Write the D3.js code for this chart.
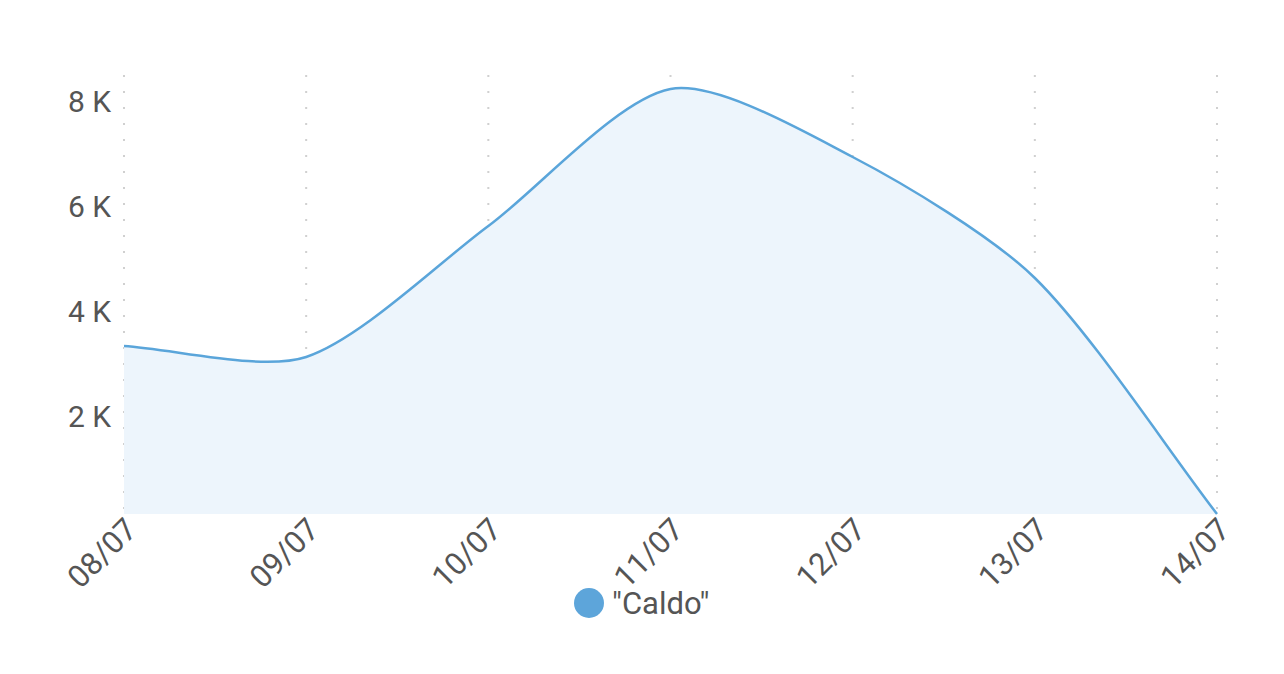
<!DOCTYPE html>
<html><head><meta charset="utf-8">
<script src="https://cdn.jsdelivr.net/npm/d3@7"></script>
<style>body{margin:0;background:#fff;} svg{display:block;font-family:Roboto, sans-serif;}</style>
</head><body>
<svg id="c" width="1284" height="674"></svg>
<script>
const categories = ["08/07","09/07","10/07","11/07","12/07","13/07","14/07"];
const values = [3352, 3143, 5638, 8247, 6952, 4647, 152];
const yTicks = [2000, 4000, 6000, 8000];
const seriesName = '"Caldo"';

(function(){
// Chart.js-style tension spline as a d3 curve factory
function SplineCurve(context, tension){ this._context = context; this._t = tension; }
SplineCurve.prototype = {
  areaStart(){ this._line = 0; },
  areaEnd(){ this._line = NaN; },
  lineStart(){ this._pts = []; },
  point(x, y){ this._pts.push([+x, +y]); },
  lineEnd(){
    const p = this._pts, n = p.length, c = this._context, t = this._t;
    if (n) {
      if (this._line) c.lineTo(p[0][0], p[0][1]); else c.moveTo(p[0][0], p[0][1]);
      const prevCp = [], nextCp = [];
      for (let i = 0; i < n; i++) {
        const a = p[Math.max(i-1,0)], m = p[i], b = p[Math.min(i+1,n-1)];
        const d01 = Math.hypot(m[0]-a[0], m[1]-a[1]);
        const d12 = Math.hypot(b[0]-m[0], b[1]-m[1]);
        let s01 = d01/(d01+d12), s12 = d12/(d01+d12);
        if (isNaN(s01)) s01 = 0; if (isNaN(s12)) s12 = 0;
        const fa = t*s01, fb = t*s12;
        prevCp[i] = [m[0] - fa*(b[0]-a[0]), m[1] - fa*(b[1]-a[1])];
        nextCp[i] = [m[0] + fb*(b[0]-a[0]), m[1] + fb*(b[1]-a[1])];
      }
      for (let i = 1; i < n; i++) {
        c.bezierCurveTo(nextCp[i-1][0], nextCp[i-1][1], prevCp[i][0], prevCp[i][1], p[i][0], p[i][1]);
      }
    }
    if (this._line || (this._line !== 0 && n === 1)) c.closePath();
    this._line = 1 - this._line;
  }
};
const curve = ctx => new SplineCurve(ctx, 0.27);

const svg = d3.select("#c");
const mLeft = 124, mRight = 1217, mTop = 75, mBottom = 514;
const x = d3.scalePoint().domain(categories).range([mLeft, mRight]);
const y = d3.scaleLinear().domain([d3.min(values), 8514]).range([mBottom, mTop]);

// vertical dotted gridlines
svg.append("g").selectAll("line").data(categories).join("line")
  .attr("x1", d => x(d)).attr("x2", d => x(d))
  .attr("y1", mTop).attr("y2", mBottom)
  .attr("stroke", "#d0d0d0").attr("stroke-width", 2)
  .attr("stroke-dasharray", "2,14");

const area = d3.area().x((d,i)=>x(categories[i])).y0(mBottom).y1(d=>y(d)).curve(curve);
const line = d3.line().x((d,i)=>x(categories[i])).y(d=>y(d)).curve(curve);

svg.append("path").datum(values).attr("d", area).attr("fill", "#EDF5FC");
svg.append("path").datum(values).attr("d", line).attr("fill", "none")
  .attr("stroke", "#5AA5DA").attr("stroke-width", 2.5);

// y axis labels
const yAxis = d3.axisLeft(y).tickValues(yTicks).tickSize(0).tickPadding(0)
  .tickFormat(d => (d/1000) + " K");
const gy = svg.append("g").attr("transform", `translate(111,0)`).call(yAxis);
gy.select(".domain").remove();
gy.selectAll("text").attr("font-size", 30).attr("fill", "#555").attr("font-family", "Roboto");

// x axis labels
const xAxis = d3.axisBottom(x).tickSize(0).tickPadding(0);
const gx = svg.append("g").attr("transform", `translate(0,${mBottom})`).call(xAxis);
gx.select(".domain").remove();
gx.selectAll("text")
  .attr("font-size", 31).attr("fill", "#555").attr("font-family", "Roboto")
  .attr("text-anchor", "end").attr("dy", null).attr("y", 0)
  .attr("transform", "translate(-2,1) rotate(-45)")
  .attr("dominant-baseline", "hanging");

// legend
const lg = svg.append("g");
lg.append("circle").attr("cx", 589).attr("cy", 603).attr("r", 15).attr("fill", "#5DA5DA");
lg.append("text").attr("x", 612).attr("y", 614).attr("font-size", 31).attr("fill", "#555")
  .text(seriesName);
})();
</script>
</body></html>
